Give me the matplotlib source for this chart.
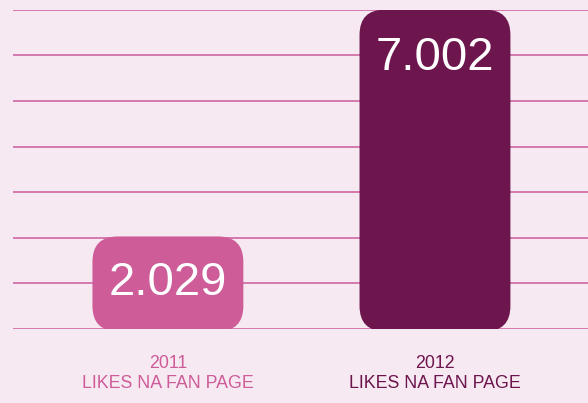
import matplotlib.pyplot as plt
from matplotlib.patches import FancyBboxPatch

years = ['2011', '2012']
likes = [2.029, 7.002]
value_labels = ['2.029', '7.002']
bar_colors = ['#cd5c99', '#6d154d']
bg = '#f7e9f2'
line_color = '#d066a3'

fig = plt.figure(figsize=(5.88, 4.03), dpi=100, facecolor=bg)
ax = fig.add_axes([13 / 588, 74 / 403, 575 / 588, 319.3 / 403])
ax.set_facecolor(bg)

x = range(len(years))
bars = ax.bar(x, likes, width=0.565, bottom=-0.05, alpha=0)

ax.set_xlim(-0.58, 1.573)
ax.set_ylim(0, 7)

# rounded bars built from the library bars
r = 0.095
for b, c in zip(bars, bar_colors):
    p = FancyBboxPatch((b.get_x(), b.get_y()), b.get_width(), b.get_height() + 0.05,
                       boxstyle=f'round,pad=0,rounding_size={r}',
                       mutation_aspect=5.85, facecolor=c, edgecolor='none',
                       zorder=3)
    ax.add_patch(p)

ax.text(0, likes[0] / 2, value_labels[0], ha='center', va='center',
        color='white', fontsize=34, family='Liberation Sans', zorder=4)
ax.text(1, likes[1] - 1.05, value_labels[1], ha='center', va='center',
        color='white', fontsize=34, family='Liberation Sans', zorder=4)

ax.set_yticks(range(8))
ax.yaxis.grid(True, color=line_color, linewidth=1.2)
ax.set_axisbelow(True)
ax.tick_params(left=False, labelleft=False, bottom=False)
for s in ax.spines.values():
    s.set_visible(False)

ax.set_xticks(list(x))
ax.set_xticklabels([y + '\nLIKES NA FAN PAGE' for y in years],
                   fontsize=12.8, family='Liberation Sans', linespacing=1.25)
ax.tick_params(axis='x', pad=15)
for lbl, c in zip(ax.get_xticklabels(), bar_colors):
    lbl.set_color(c)

fig.savefig('out.png', dpi=100, facecolor=bg)
